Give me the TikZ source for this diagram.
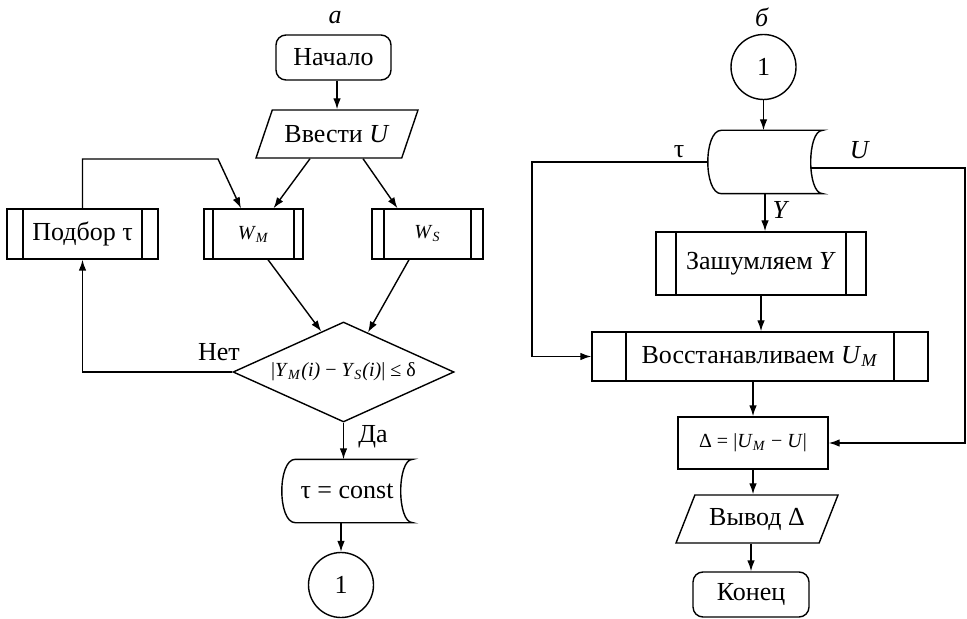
\documentclass[tikz,border=0pt]{standalone}
\usepackage{fontspec}
\setmainfont{Liberation Serif}
\usetikzlibrary{shapes.geometric,arrows.meta,calc}

\newcommand{\storeshape}[1]{%
  \draw ([xshift=7pt]#1.north west) -- (#1.north east)
    .. controls ([xshift=-8pt]#1.north east) and ([xshift=-8pt]#1.south east) .. (#1.south east)
    -- ([xshift=7pt]#1.south west)
    .. controls ([xshift=-2pt]#1.south west) and ([xshift=-2pt]#1.north west) .. ([xshift=7pt]#1.north west);}

\begin{document}
\begin{tikzpicture}[x=0.5pt,y=-0.5pt,line width=0.7pt,
  >={Latex[length=5.5pt,width=3.8pt]},
  every node/.style={font=\fontsize{13}{15}\selectfont},
  terminal/.style={draw,rounded corners=5pt,minimum height=22.5pt},
  io/.style={draw,trapezium,trapezium left angle=62,trapezium right angle=118,%
    trapezium stretches body,minimum height=24pt,minimum width=81pt,inner xsep=2pt},
  subproc/.style={draw,minimum height=25pt,path picture={%
    \draw ([xshift=#1]path picture bounding box.north west) -- ([xshift=#1]path picture bounding box.south west)
      ([xshift=-#1]path picture bounding box.north east) -- ([xshift=-#1]path picture bounding box.south east);}},
  store/.style={minimum height=31pt},
  connector/.style={draw,circle,minimum size=32.5pt,inner sep=0pt},
  decision/.style={draw,diamond,minimum width=110.5pt,minimum height=50pt,inner sep=0pt,aspect=2.2},
  small/.style={font=\fontsize{10}{12}\selectfont}]

  \useasboundingbox (0,0) rectangle (967,619);

  \node (titlea) at (335,18) {\textit{а}};
  \node [terminal,minimum width=57.5pt] (begin) at (333.5,57.5) {Начало};
  \node [io] (input) at (337,134) {Ввести \textit{U}};
  \node [subproc=8pt,minimum width=75.5pt] (pick) at (82.5,234) {Подбор τ};
  \node [subproc=4.5pt,minimum width=49.5pt,small] (wm) at (253.5,234) {\textit{W}\textsubscript{\textit{M}}};
  \node [subproc=6pt,minimum width=55.5pt,small] (ws) at (427.5,234) {\textit{W}\textsubscript{\textit{S}}};
  \node [decision,small] (check) at (343.5,372)
    {|\textit{Y}\textsubscript{\textit{M}}\textit{(i)} − \textit{Y}\textsubscript{\textit{S}}\textit{(i)}| ≤ δ};
  \node (no) at (219,352) {Нет};
  \node (yes) at (373,437) {Да};
  \node [store,minimum width=65pt] (fixed) at (347,491) {τ = const};
  \node [connector] (link1) at (341,585) {1};

  \node (titleb) at (762,17) {\textit{б}};
  \node [connector] (link2) at (763.5,67) {1};
  \node [store,minimum width=57pt] (data) at (765,162) {};
  \node (taulbl) at (679,152) {τ};
  \node (ulbl) at (860,150) {\textit{U}};
  \node (ylbl) at (781,210) {\textit{Y}};
  \node [subproc=10pt,minimum width=105pt,minimum height=31.5pt] (noise) at (761,263.5) {Зашумляем \textit{Y}};
  \node [subproc=17pt,minimum width=168pt,minimum height=24.5pt] (restore) at (760,356.5)
    {Восстанавливаем \textit{U}\textsubscript{\textit{M}}};
  \node [draw,minimum width=75pt,minimum height=26pt,small] (delta) at (753,443)
    {Δ = |\textit{U}\textsubscript{\textit{M}} − \textit{U}|};
  \node [io] (output) at (757,519) {Вывод Δ};
  \node [terminal,minimum width=58pt] (finish) at (751,594.5) {Конец};

  \storeshape{fixed}
  \storeshape{data}

  \draw [->] (input.north |- begin.south) -- (input.north);
  \draw [->] ([xshift=-13.5pt]input.south) -- ([xshift=10pt]wm.north);
  \draw [->] ([xshift=13pt]input.south) -- ([xshift=-15pt]ws.north);
  \coordinate (pickturn) at (218,159);
  \draw [->] (pick.north) |- (pickturn) -- ([xshift=-6.25pt]wm.north);
  \draw [->] ([xshift=7.25pt]wm.south) -- ($(check.north)!0.2!(check.west)$);
  \draw [->] ([xshift=-9.25pt]ws.south) -- ($(check.north)!0.22!(check.east)$);
  \draw [->] (check.west) -| (pick.south);
  \draw [->] (check.south) -- (check.south |- fixed.north);
  \draw [->] (link1.north |- fixed.south) -- (link1.north);

  \draw [->] (link2.south) -- (link2.south |- data.north);
  \coordinate (tauturn) at (532,162);
  \draw [->] (data.west) -- (tauturn) |- (restore.west);
  \coordinate (uturn) at (965,168);
  \draw [->] ([xshift=-6pt,yshift=-3pt]data.east) -- (uturn) |- (delta.east);
  \draw [->] (data.south) -- (data.south |- noise.north);
  \draw [->] (noise.south) -- (noise.south |- restore.north);
  \draw [->] (delta.north |- restore.south) -- (delta.north);
  \draw [->] (delta.south) -- (delta.south |- output.north);
  \draw [->] (finish.north |- output.south) -- (finish.north);
\end{tikzpicture}
\end{document}
